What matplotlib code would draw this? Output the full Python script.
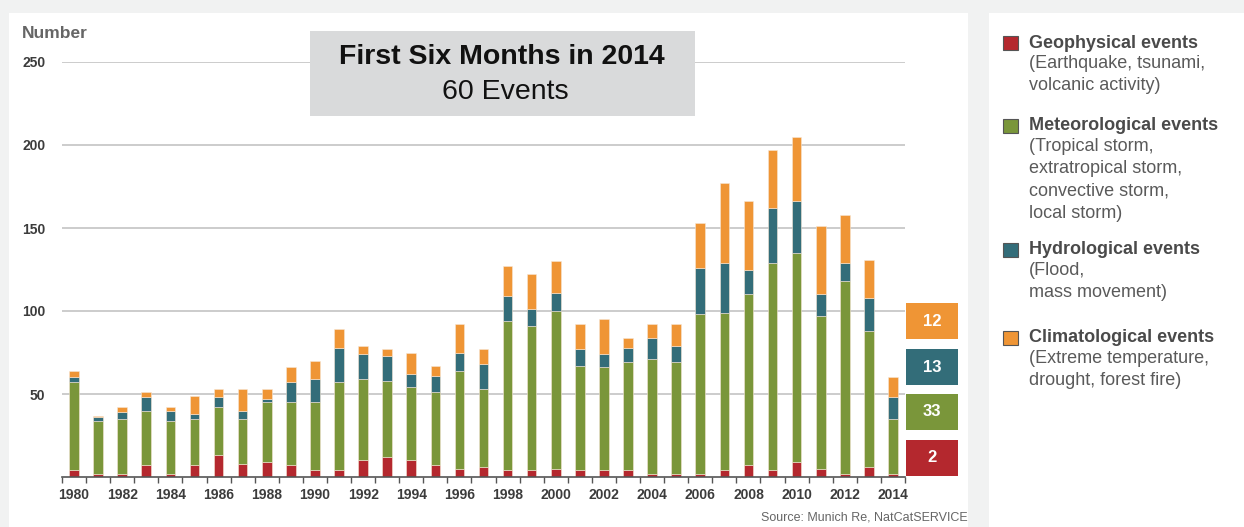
import numpy as np
import matplotlib
matplotlib.use("Agg")
import matplotlib.pyplot as plt
from matplotlib.patches import Rectangle

plt.rcParams['font.family'] = ['Liberation Sans', 'DejaVu Sans']

W, H = 1244, 527

years = list(range(1980, 2015))
geophysical = [4, 2, 2, 7, 2, 7, 13, 8, 9, 7, 4, 4, 10, 12, 10, 7, 5, 6,
               4, 4, 5, 4, 4, 4, 2, 2, 2, 4, 7, 4, 9, 5, 2, 6, 2]
meteorological = [53, 32, 33, 33, 32, 28, 29, 27, 36, 38, 41, 53, 49, 46, 44, 44, 59, 47,
                  90, 87, 95, 63, 62, 65, 69, 67, 96, 95, 103, 125, 126, 92, 116, 82, 33]
hydrological = [3, 2, 4, 8, 6, 3, 6, 5, 2, 12, 14, 21, 15, 15, 8, 10, 11, 15,
                15, 10, 11, 10, 8, 9, 13, 10, 28, 30, 15, 33, 31, 13, 11, 20, 13]
climatological = [4, 1, 3, 3, 2, 11, 5, 13, 6, 9, 11, 11, 5, 4, 13, 6, 17, 9,
                  18, 21, 19, 15, 21, 6, 8, 13, 27, 48, 41, 35, 39, 41, 29, 23, 12]

series_names = ["Geophysical events", "Meteorological events",
                "Hydrological events", "Climatological events"]
series_notes = ["(Earthquake, tsunami,\nvolcanic activity)",
                "(Tropical storm,\nextratropical storm,\nconvective storm,\nlocal storm)",
                "(Flood,\nmass movement)",
                "(Extreme temperature,\ndrought, forest fire)"]
colors = ["#b4282e", "#7a963a", "#336d79", "#ef9535"]


def px(x, y):
    # pixel position (from top-left) -> figure fraction
    return x / W, 1 - y / H


fig = plt.figure(figsize=(W / 100, H / 100), dpi=100)
fig.patch.set_facecolor("#f1f2f2")

# white panels
for (x0, y0, x1, y1) in [(9, 13, 968, 527), (989, 13, 1244, 527)]:
    fig.add_artist(Rectangle(px(x0, y1), (x1 - x0) / W, (y1 - y0) / H,
                             transform=fig.transFigure, facecolor="white",
                             edgecolor="none", zorder=-5))

l, r, t, b = 62, 905, 62, 477
ax = fig.add_axes([l / W, 1 - b / H, (r - l) / W, (b - t) / H])
ax.patch.set_alpha(0)

x = np.array(years)
bottom = np.zeros(len(years))
for vals, c in zip([geophysical, meteorological, hydrological, climatological], colors):
    ax.bar(x, vals, width=0.4, bottom=bottom, color=c, edgecolor="#f7e6d6",
           linewidth=0.4, zorder=3)
    bottom += np.array(vals)

ax.set_xlim(1979.5, 2014.5)
ax.set_ylim(0, 250)
ax.set_yticks([50, 100, 150, 200, 250])
ax.yaxis.grid(True, color="#c4c4c4", linewidth=1.2, zorder=0)
ax.tick_params(axis="y", length=0, pad=12, labelsize=10, labelcolor="#3c3c3c")
for lab in ax.get_yticklabels():
    lab.set_fontweight("bold")

ax.set_xticks(years[::2])
ax.set_xticks(np.arange(1979.5, 2015, 1), minor=True)
ax.tick_params(axis="x", which="major", length=0, pad=8, labelsize=10, labelcolor="#3c3c3c")
ax.tick_params(axis="x", which="minor", length=4, width=1, color="#555555", direction="out")
for lab in ax.get_xticklabels():
    lab.set_fontweight("bold")

for s in ["top", "right", "left"]:
    ax.spines[s].set_visible(False)
ax.spines["bottom"].set_color("#555555")
ax.spines["bottom"].set_linewidth(1.2)
ax.spines["bottom"].set_zorder(4)

fig.text(*px(22, 33), "Number", fontsize=12.5, fontweight="bold", color="#666666",
         ha="left", va="center")

# title box
fig.add_artist(Rectangle(px(310, 116), (695 - 310) / W, (116 - 31) / H,
                         transform=fig.transFigure, facecolor="#d9dadb",
                         edgecolor="none", zorder=5))
fig.text(*px(502, 57), "First Six Months in 2014", fontsize=20.5, fontweight="bold",
         color="#111111", ha="center", va="center", zorder=6)
fig.text(*px(505, 92), "60 Events", fontsize=20.5, color="#111111",
         ha="center", va="center", zorder=6)

# 2014 value boxes
vals_2014 = [geophysical[-1], meteorological[-1], hydrological[-1], climatological[-1]]
box_tops = [440, 394, 349, 303]
for v, c, yt in zip(vals_2014, colors, box_tops):
    fig.add_artist(Rectangle(px(906, yt + 36), 52 / W, 36 / H,
                             transform=fig.transFigure, facecolor=c,
                             edgecolor="none", zorder=5))
    fig.text(*px(932, yt + 18), str(v), fontsize=12, fontweight="bold",
             color="white", ha="center", va="center", zorder=6)

# legend
leg_y = [43, 126, 250, 338]
for name, note, c, yy in zip(series_names, series_notes, colors, leg_y):
    fig.add_artist(Rectangle(px(1003, yy + 7), 15 / W, 14 / H,
                             transform=fig.transFigure, facecolor=c,
                             edgecolor="#555555", linewidth=0.8, zorder=5))
    fig.text(*px(1029, yy), name, fontsize=13, fontweight="bold", color="#4a4a4a",
             ha="left", va="center")
    fig.text(*px(1029, yy + 12), note, fontsize=13, color="#5a5a5a",
             ha="left", va="top", linespacing=1.42)

fig.text(*px(968, 517), "Source: Munich Re, NatCatSERVICE", fontsize=9,
         color="#666666", ha="right", va="center")

fig.savefig("out.png", dpi=100, facecolor=fig.get_facecolor())
